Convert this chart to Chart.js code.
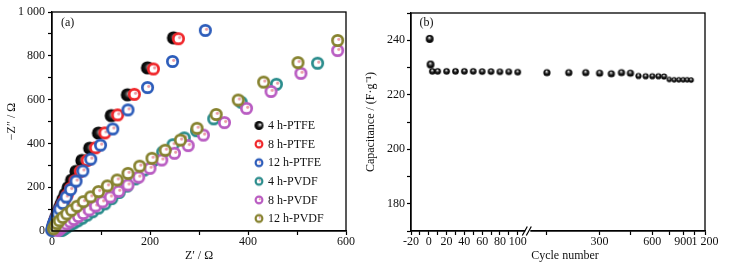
<!DOCTYPE html>
<html><head><meta charset="utf-8">
<script src="https://cdn.jsdelivr.net/npm/chart.js@4/dist/chart.umd.min.js"></script>
<style>
html,body{margin:0;padding:0;background:#fff;width:731px;height:271px;overflow:hidden}
#wa{position:absolute;left:0;top:0;width:370px;height:271px}
#wb{position:absolute;left:355px;top:0;width:376px;height:271px}
</style></head><body>
<div id="wa"><canvas id="ca" width="370" height="271"></canvas></div>
<div id="wb"><canvas id="cb" width="376" height="271"></canvas></div>
<script>
// ---------- DATA: panel (a) Nyquist plot ----------
const seriesNames = ['4 h-PTFE', '8 h-PTFE', '12 h-PTFE', '4 h-PVDF', '8 h-PVDF', '12 h-PVDF'];

const zRe_4hPTFE = [1, 1.5, 2, 2.5, 3, 4, 5, 6, 8, 10, 12, 15, 18, 22, 27, 33, 40, 49, 61, 77, 95, 121, 154, 195, 248];
const zIm_4hPTFE = [5, 9, 14, 20, 26, 33, 41, 50, 61, 73, 87, 103, 121, 143, 168, 198, 232, 272, 322, 378, 447, 527, 622, 745, 882];

const zRe_8hPTFE = [1.5, 2, 2.5, 3, 4, 5, 6.5, 8, 10, 13, 16, 20, 25, 31, 38, 47, 58, 72, 89, 108, 134, 168, 207, 258];
const zIm_8hPTFE = [7, 12, 17, 23, 30, 38, 47, 57, 69, 83, 99, 118, 140, 165, 195, 230, 272, 322, 380, 448, 530, 624, 740, 878];

const zRe_12hPTFE = [0, 0.5, 1, 2, 3, 5, 8, 12, 16, 22, 29, 38, 49, 63, 79, 99, 124, 155, 195, 246, 313];
const zIm_12hPTFE = [3, 8, 15, 23, 33, 45, 60, 79, 100, 126, 155, 189, 228, 274, 328, 392, 466, 553, 655, 774, 916];

const zRe_4hPVDF = [20, 23, 27, 32, 38, 45, 53, 62, 72, 83, 95, 108, 122, 137, 153, 170, 188, 207, 226, 247, 270, 295, 330, 386, 458, 542];
const zIm_4hPVDF = [2, 7, 13, 20, 28, 37, 47, 59, 73, 88, 105, 124, 148, 176, 205, 238, 278, 322, 360, 394, 425, 458, 512, 588, 670, 766];

const zRe_8hPVDF = [12, 15, 19, 24, 30, 37, 45, 54, 64, 76, 89, 103, 119, 136, 155, 177, 200, 224, 250, 278, 309, 352, 397, 447, 508, 583];
const zIm_8hPVDF = [2, 8, 15, 23, 32, 42, 53, 66, 80, 96, 114, 133, 155, 181, 210, 246, 286, 324, 355, 390, 438, 495, 560, 637, 720, 824];

const zRe_12hPVDF = [3, 6, 10, 15, 22, 30, 40, 51, 64, 79, 95, 113, 133, 155, 179, 204, 231, 262, 296, 335, 380, 432, 502, 583];
const zIm_12hPVDF = [10, 22, 34, 47, 62, 78, 95, 113, 134, 156, 180, 206, 233, 263, 296, 332, 369, 415, 469, 532, 598, 680, 769, 870];

const zReTicks = [0, 100, 200, 300, 400, 500, 600];
const zImTicks = [0, 100, 200, 300, 400, 500, 600, 700, 800, 900, 1000];

// ---------- DATA: panel (b) cycling ----------
const cyclesEarly = [1, 2, 4, 10, 20, 30, 40, 50, 60, 70, 80, 90, 100];
const capEarly = [240.5, 231.1, 228.6, 228.6, 228.6, 228.6, 228.6, 228.6, 228.5, 228.5, 228.4, 228.4, 228.3];
const cyclesLate = [150, 200, 250, 300, 350, 400, 450, 500, 550, 600, 650, 700, 750, 800, 850, 900, 950, 1000];
const capLate = [228.1, 228.1, 228.1, 227.9, 227.7, 228.1, 227.9, 226.9, 226.8, 226.8, 226.8, 226.7, 225.6, 225.5, 225.5, 225.5, 225.5, 225.4];

const cycTicksEarly = [-20, -10, 0, 10, 20, 30, 40, 50, 60, 70, 80, 90, 100];
const cycTicksLate = [150, 300, 450, 600, 750, 900, 1050, 1200];
const capTicks = [170, 180, 190, 200, 210, 220, 230, 240, 250];

// ---------- styles ----------
const SERIF = "'Liberation Serif', 'Times New Roman', serif";
const tickFont = { family: SERIF, size: 12 };
const seriesColors = ['#000000', '#f0262a', '#2c5cba', '#2a8c8c', '#b95cc2', '#86822e'];

function ringImage(color, r, lw) {
  const s = Math.ceil(2 * (r + lw)) + 1;
  const c = document.createElement('canvas'); c.width = s; c.height = s;
  const g = c.getContext('2d'); const m = s / 2;
  g.beginPath(); g.arc(m, m, r, 0, 2 * Math.PI);
  g.fillStyle = '#ffffff'; g.fill();
  g.lineWidth = lw; g.strokeStyle = color; g.stroke();
  g.beginPath(); g.arc(m + r * 0.22, m - r * 0.22, r * 0.3, 0, 2 * Math.PI);
  g.fillStyle = 'rgba(232,140,150,0.85)'; g.fill();
  return c;
}
function sphereImage(r, hx, hy) {
  const s = Math.ceil(2 * r) + 2;
  const c = document.createElement('canvas'); c.width = s; c.height = s;
  const g = c.getContext('2d'); const m = s / 2;
  const grad = g.createRadialGradient(m + r * hx, m + r * hy, r * 0.05, m, m, r);
  grad.addColorStop(0, '#ffffff'); grad.addColorStop(0.22, '#8a8a8a');
  grad.addColorStop(0.55, '#151515'); grad.addColorStop(1, '#000000');
  g.beginPath(); g.arc(m, m, r, 0, 2 * Math.PI); g.fillStyle = grad; g.fill();
  return c;
}
const bigMarkers = seriesColors.map((c, i) => i === 0 ? sphereImage(6.6, 0.3, -0.2) : ringImage(c, 5.2, 2.7));
const smallMarkers = seriesColors.map((c, i) => i === 0 ? sphereImage(4.5, 0.3, -0.2) : ringImage(c, 3.4, 2.1));

const framePlugin = {
  id: 'frame',
  afterDraw(chart) {
    const a = chart.chartArea, g = chart.ctx;
    g.save(); g.strokeStyle = '#000'; g.lineWidth = 1.3;
    g.strokeRect(a.left, a.top, a.right - a.left, a.bottom - a.top);
    const o = chart.options.plugins.frame || {};
    if (o.label) {
      g.fillStyle = '#111'; g.font = '12px ' + SERIF; g.textBaseline = 'middle'; g.textAlign = 'left';
      g.fillText(o.label, a.left + o.lx, a.top + o.ly);
    }
    g.restore();
  }
};

const legendPlugin = {
  id: 'nyqLegend',
  afterDraw(chart) {
    const o = chart.options.plugins.nyqLegend; if (!o || !o.show) return;
    const g = chart.ctx; g.save();
    g.font = '12px ' + SERIF; g.fillStyle = '#111'; g.textBaseline = 'middle'; g.textAlign = 'left';
    seriesNames.forEach((n, i) => {
      const y = o.y + i * o.step; const img = smallMarkers[i];
      g.drawImage(img, o.x - img.width / 2, y - img.height / 2);
      g.fillText(n, o.x + 9, y + 0.5);
    });
    g.restore();
  }
};

const breakPlugin = {
  id: 'axisBreak',
  afterDraw(chart) {
    if (!chart.scales.xl) return;
    const g = chart.ctx; const x = chart.scales.xl.right; const y = chart.chartArea.bottom;
    g.save();
    g.fillStyle = '#fff'; g.fillRect(x - 2, y - 2, 5, 4);
    g.strokeStyle = '#000'; g.lineWidth = 1.2;
    g.beginPath();
    g.moveTo(x - 5, y + 4.5); g.lineTo(x + 0, y - 4.5);
    g.moveTo(x - 1, y + 4.5); g.lineTo(x + 4, y - 4.5);
    g.stroke(); g.restore();
  }
};

function ds(i, xs, ys) {
  return {
    label: seriesNames[i],
    data: xs.map((x, k) => ({ x: x, y: ys[k] })),
    pointStyle: bigMarkers[i], pointRadius: 6, showLine: false, clip: false,
    order: 6 - i
  };
}

function axisCommon(extra) {
  return Object.assign({
    grid: { drawOnChartArea: false, tickLength: 4, color: '#000', tickWidth: 1.2 },
    border: { color: '#000', width: 1.3 }
  }, extra);
}

new Chart(document.getElementById('ca'), {
  type: 'scatter',
  data: {
    datasets: [
      ds(0, zRe_4hPTFE, zIm_4hPTFE),
      ds(1, zRe_8hPTFE, zIm_8hPTFE),
      ds(2, zRe_12hPTFE, zIm_12hPTFE),
      ds(3, zRe_4hPVDF, zIm_4hPVDF),
      ds(4, zRe_8hPVDF, zIm_8hPVDF),
      ds(5, zRe_12hPVDF, zIm_12hPVDF)
    ]
  },
  options: {
    responsive: false, animation: false, devicePixelRatio: 1,
    layout: { padding: { top: 12, right: 24, left: 0, bottom: 0 } },
    plugins: {
      legend: { display: false }, tooltip: { enabled: false },
      frame: { label: '(a)', lx: 9, ly: 10.5 },
      nyqLegend: { show: true, x: 259, y: 125.5, step: 18.6 }
    },
    scales: {
      x: axisCommon({
        type: 'linear', min: 0, max: 600,
        afterBuildTicks: s => { s.ticks = zReTicks.map(v => ({ value: v })); },
        afterFit: s => { s.height = 40; },
        ticks: { font: tickFont, color: '#111', padding: 0, maxRotation: 0, autoSkip: false,
                 callback: v => (v % 200 === 0 ? String(v) : '') },
        title: { display: true, text: 'Z′ / Ω', font: tickFont, color: '#111', padding: { top: 0, bottom: 8 } }
      }),
      y: axisCommon({
        type: 'linear', min: 0, max: 1000,
        afterBuildTicks: s => { s.ticks = zImTicks.map(v => ({ value: v })); },
        afterFit: s => { s.width = 52; },
        ticks: { font: tickFont, color: '#111', padding: 3, autoSkip: false,
                 callback: v => (v % 200 === 0 ? (v === 1000 ? '1 000' : String(v)) : '') },
        title: { display: true, text: '−Z″ / Ω', font: tickFont, color: '#111', padding: { top: 5, bottom: 0 } }
      })
    }
  },
  plugins: [framePlugin, legendPlugin]
});

function sphereFor(r) { return sphereImage(r, -0.1, -0.35); }
const sph = { a: sphereFor(3.9), b: sphereFor(3.3), c: sphereFor(3.6), d: sphereFor(3.1), e: sphereFor(2.7) };

new Chart(document.getElementById('cb'), {
  type: 'scatter',
  data: {
    datasets: [
      { label: 'early', xAxisID: 'xl', yAxisID: 'y', clip: false, pointRadius: 4,
        data: cyclesEarly.map((c, k) => ({ x: c, y: capEarly[k] })),
        pointStyle: ctx => (ctx.raw && ctx.raw.x <= 2 ? sph.a : sph.b) },
      { label: 'late', xAxisID: 'xg', yAxisID: 'y', clip: false, pointRadius: 4,
        data: cyclesLate.map((c, k) => ({ x: c, y: capLate[k] })),
        pointStyle: ctx => (!ctx.raw ? sph.c : ctx.raw.x <= 450 ? sph.c : ctx.raw.x <= 700 ? sph.d : sph.e) }
    ]
  },
  options: {
    responsive: false, animation: false, devicePixelRatio: 1,
    layout: { padding: { top: 13, right: 26, left: 0, bottom: 0 } },
    plugins: {
      legend: { display: false }, tooltip: { enabled: false },
      frame: { label: '(b)', lx: 8.5, ly: 9.5 }
    },
    scales: {
      xl: axisCommon({
        type: 'linear', position: 'bottom', stack: 'cyc', stackWeight: 116.3,
        min: -20, max: 110.8,
        afterBuildTicks: s => { s.ticks = cycTicksEarly.map(v => ({ value: v })); },
        afterFit: s => { s.height = 40; },
        ticks: { font: tickFont, color: '#111', padding: 0, maxRotation: 0, autoSkip: false,
                 callback: v => (v % 20 === 0 ? String(v) : '') },
        title: { display: false }
      }),
      xg: axisCommon({
        type: 'logarithmic', position: 'bottom', stack: 'cyc', stackWeight: 177.7,
        min: 115.9, max: 1200,
        afterBuildTicks: s => { s.ticks = cycTicksLate.map(v => ({ value: v })); },
        afterFit: s => { s.height = 40; },
        ticks: { font: tickFont, color: '#111', padding: 0, maxRotation: 0, autoSkip: false,
                 callback: v => (v % 300 === 0 ? (v === 1200 ? '1 200' : String(v)) : '') },
        title: { display: false }
      }),
      y: axisCommon({
        type: 'linear', min: 170, max: 250,
        afterBuildTicks: s => { s.ticks = capTicks.map(v => ({ value: v })); },
        afterFit: s => { s.width = 56; },
        ticks: { font: tickFont, color: '#111', padding: 2, autoSkip: false,
                 callback: v => (v % 20 === 0 && v >= 180 && v <= 240 ? String(v) : '') },
        title: { display: true, text: 'Capacitance / (F·g⁻¹)', font: tickFont, color: '#111', padding: { top: 9, bottom: 0 } }
      })
    }
  },
  plugins: [framePlugin, breakPlugin, {
    id: 'cycTitle',
    afterDraw(chart) {
      const g = chart.ctx, a = chart.chartArea; g.save();
      g.font = '12px ' + SERIF; g.fillStyle = '#111'; g.textAlign = 'center'; g.textBaseline = 'middle';
      g.fillText('Cycle number', (a.left + a.right) / 2 + 7, 256);
      g.restore();
    }
  }]
});
</script>
</body></html>
